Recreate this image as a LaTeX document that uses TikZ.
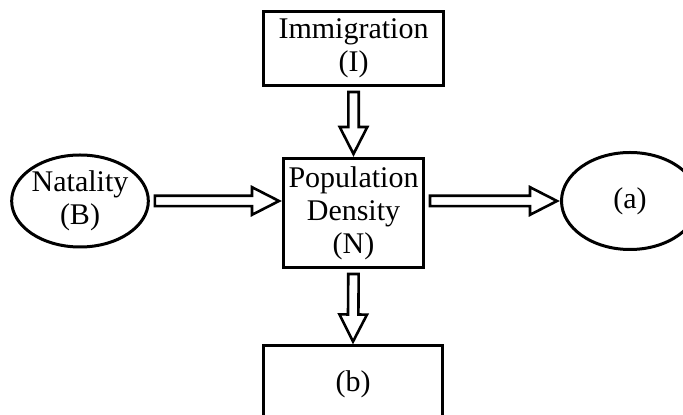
\documentclass[tikz,border=0pt]{standalone}
\usepackage{fontspec}
\setmainfont{Liberation Serif}
\usepackage{tikz}
\usetikzlibrary{calc, positioning, shapes.geometric}

\tikzset{
  box/.style={draw, line width=1.5pt, rectangle, inner sep=0pt, align=center,
    font=\fontsize{15}{16.5}\selectfont},
  oval/.style={draw, line width=1.5pt, ellipse, inner sep=0pt, align=center,
    font=\fontsize{15}{16.5}\selectfont},
  % hollow block arrow from anchor to anchor
  blockarr/.style={draw, line width=1.3pt, line join=miter, fill=white,
    to path={let \p1=(\tikztostart), \p2=(\tikztotarget),
      \n1={atan2(\y2-\y1,\x2-\x1)}, \n2={veclen(\x2-\x1,\y2-\y1)} in
      [shift={(\p1)}, rotate=\n1]
      (2.5pt,-2.6pt) -- (\n2-15pt,-2.6pt) -- (\n2-15pt,-6.9pt) -- (\n2-1.5pt,0pt)
      -- (\n2-15pt,6.9pt) -- (\n2-15pt,2.6pt) -- (2.5pt,2.6pt) -- cycle}}
}

\begin{document}
\begin{tikzpicture}[x=0.5pt, y=-0.5pt]
    \useasboundingbox (0,0) rectangle (683,415);

    \node[box, minimum width=90pt, minimum height=37pt] (imm) at (353.5,48.5) {Immigration\\(I)};
    \node[box, minimum width=70pt, minimum height=54.5pt] (pop) at (353.5,213) {Population\\Density\\(N)};
    \node[box, minimum width=89.5pt, minimum height=38pt] (b) at (353,384) {(b)};
    \node[oval, minimum width=66.5pt, minimum height=46pt] (nat) at (80,201) {Natality\\(B)};
    \node[oval, minimum width=68.5pt, minimum height=48.5pt] (a) at (630,201) {(a)};

    % Arrows
    \draw[blockarr] (imm.south) to (pop.north);
    \draw[blockarr] (nat.east) to (nat.east -| pop.west);
    \draw[blockarr] (pop.east |- a.west) to (a.west);
    \draw[blockarr] (pop.south) to (b.north);
\end{tikzpicture}
\end{document}
